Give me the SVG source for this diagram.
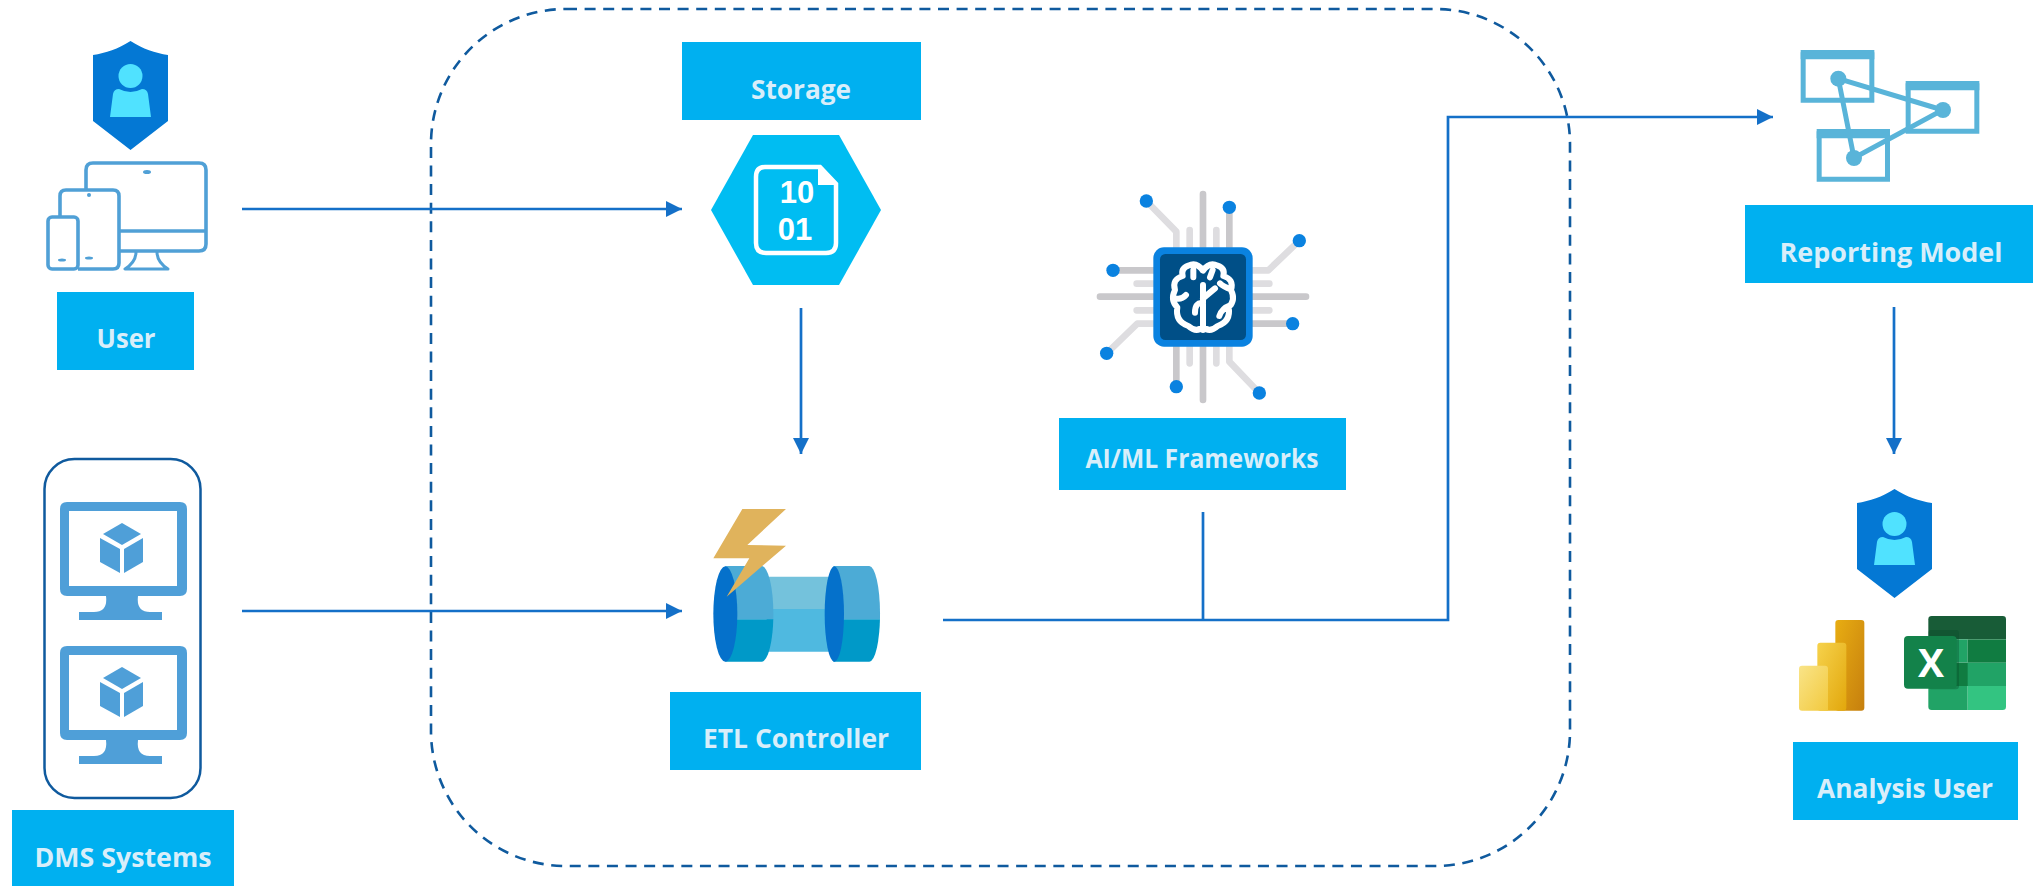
<svg xmlns="http://www.w3.org/2000/svg" width="2033" height="886" viewBox="0 0 2033 886">
<defs>
<style>
.lb{fill:#00b0f0}
.t{font-family:"Open Sans","Liberation Sans",sans-serif;font-weight:700;font-size:27px;fill:#d8eefa;text-anchor:middle}
.d{font-family:"Liberation Sans",Arial,sans-serif;font-weight:700;font-size:31px;fill:#fff;text-anchor:middle}
.c{fill:none;stroke:#1470c8;stroke-width:2.7}
.dev{fill:none;stroke:#50a0d6;stroke-width:3.600;stroke-linejoin:round}
.mon{fill:#4f9fd8}
.app{fill:none;stroke:#59b4d9;stroke-width:15}
.tr{fill:none;stroke:#c9c8cb;stroke-width:20;stroke-linecap:round;stroke-linejoin:round}
.tl{fill:none;stroke:#dedde0;stroke-width:20;stroke-linecap:round;stroke-linejoin:round}
.dot{fill:#0a82e0}
</style>
<marker id="a" markerUnits="userSpaceOnUse" markerWidth="17" markerHeight="16" refX="16" refY="8" orient="auto"><path d="M0 0L16 8L0 16z" fill="#1470c8"/></marker>
<clipPath id="up"><rect x="150" y="200" width="520" height="188"/></clipPath>
<clipPath id="dn"><rect x="150" y="388" width="520" height="140"/></clipPath>
<g id="shield">
<path d="M37.500 0C50 8 62 12 75 14V80L37.500 109L0 80V14C13 12 25 8 37.500 0Z" fill="#0478d4"/>
<circle cx="37.500" cy="35" r="12" fill="#50e2ff"/>
<path d="M17 76L20 53Q21 48 26 48Q37.500 54 49 48Q54 48 55 53L58 76Z" fill="#50e2ff"/>
</g>
<g id="vm">
<path fill-rule="evenodd" class="mon" d="M67 0H180Q187 0 187 7V87Q187 94 180 94H138Q136 110 150 110H162V118H79V110H94Q108 110 106 94H67Q60 94 60 87V7Q60 0 67 0ZM69 9V84H177V9Z"/>
<path class="mon" d="M122 21L141 32L122 43L103 32Z"/>
<path class="mon" d="M100 36L120 47V71L100 60Z"/>
<path class="mon" d="M124 47L143 36V60L124 71Z"/>
</g>
<g id="pipeL"><path d="M196 228H305A35 143 0 0 1 305 515H196Z"/></g>
<g id="pipeR"><path d="M520 228H628A32 143 0 0 1 628 515H520Z"/></g>
</defs>
<rect width="2033" height="886" fill="#fff"/>

<g id="boundary"><rect x="431" y="9" width="1139" height="857" rx="135" fill="none" stroke="#0f5a9e" stroke-width="2.600" stroke-dasharray="11 7.600"/></g>

<g id="connectors">
<path class="c" d="M242 209H682" marker-end="url(#a)"/>
<path class="c" d="M242 611H682" marker-end="url(#a)"/>
<path class="c" d="M801 308V454" marker-end="url(#a)"/>
<path class="c" d="M943 620H1448V117H1773" marker-end="url(#a)"/>
<path class="c" d="M1203 512V620"/>
<path class="c" d="M1894 307V454" marker-end="url(#a)"/>
</g>

<g id="user">
<use href="#shield" x="93" y="41"/>
<g class="dev">
<path d="M86 189V170Q86 163 93 163H199Q206 163 206 170V244Q206 251 199 251H120"/>
<path d="M120 231H206"/>
<path d="M60 216V196Q60 190 66 190H113Q119 190 119 196V263Q119 269 113 269H78"/>
<rect x="48" y="217" width="30" height="52" rx="4"/>
<path d="M136 252Q136 262 125 269H168Q157 262 157 252" stroke-width="3"/>
</g>
<g fill="#50a0d6"><ellipse cx="147" cy="172" rx="4" ry="2"/><ellipse cx="89" cy="195" rx="2" ry="2"/><ellipse cx="89" cy="258" rx="4" ry="1.500"/><ellipse cx="62" cy="260" rx="4" ry="1.500"/></g>
<rect class="lb" x="57" y="292" width="137" height="78"/>
<text class="t" x="126" y="348" textLength="59" lengthAdjust="spacingAndGlyphs">User</text>
</g>

<g id="dms">
<rect x="44.500" y="459" width="156" height="339" rx="30" fill="#fff" stroke="#0f5a9e" stroke-width="2.500"/>
<use href="#vm" y="502"/>
<use href="#vm" y="646"/>
<rect class="lb" x="12" y="810" width="222" height="76"/>
<text class="t" x="123" y="867" textLength="177" lengthAdjust="spacingAndGlyphs">DMS Systems</text>
</g>

<g id="storage">
<rect class="lb" x="682" y="42" width="239" height="78"/>
<text class="t" x="801" y="99" textLength="100" lengthAdjust="spacingAndGlyphs">Storage</text>
<path d="M711 210L753 135H839L881 210L839 285H753Z" fill="#00bdf2"/>
<path d="M765 167H820L836 184V243Q836 253 826 253H766Q756 253 756 243V177Q756 167 765 167Z" fill="none" stroke="#fff" stroke-width="4.500"/>
<path d="M818 165L838 185H818Z" fill="#fff"/>
<text class="d" x="797" y="203">10</text>
<text class="d" x="795" y="240">01</text>
</g>

<g id="etl">
<g transform="translate(660 490) scale(.33333)">
<path d="M320 260H525V357H320Z" fill="#74c2dc"/>
<path d="M320 357H525V485H320Z" fill="#4fb9e0"/>
<use href="#pipeL" fill="#4cabd6" clip-path="url(#up)"/>
<use href="#pipeL" fill="#0099c8" clip-path="url(#dn)"/>
<ellipse cx="196" cy="372" rx="36" ry="143" fill="#0571cb"/>
<use href="#pipeR" fill="#4cabd6" clip-path="url(#up)"/>
<use href="#pipeR" fill="#0099c8" clip-path="url(#dn)"/>
<ellipse cx="523" cy="372" rx="29" ry="143" fill="#0571cb"/>
<path d="M247 57H378L262 165L378 167L200 320L268 205H160Z" fill="#e0b35c"/>
</g>
<rect class="lb" x="670" y="692" width="251" height="78"/>
<text class="t" x="796" y="748" textLength="186" lengthAdjust="spacingAndGlyphs">ETL Controller</text>
</g>

<g id="ai">
<g transform="translate(1060 170) scale(.33333)">
<path class="tr" d="M429 72V690M120 380H738"/>
<path class="tl" d="M389 180V580M469 180V580M230 341H628M230 421H628"/>
<path class="tr" d="M508 112V240M170 301H290M698 461H570M349 520V650"/>
<path class="tl" d="M140 550L232 461H290M259 93L349 185V240M718 212L625 301H570M508 520V575L598 669"/>
<g class="dot"><circle cx="259" cy="93" r="20"/><circle cx="508" cy="112" r="20"/><circle cx="718" cy="212" r="20"/><circle cx="159" cy="301" r="20"/><circle cx="698" cy="461" r="20"/><circle cx="140" cy="550" r="20"/><circle cx="349" cy="650" r="20"/><circle cx="598" cy="669" r="20"/></g>
<rect x="280" y="232" width="298" height="298" rx="32" fill="#0a82e0"/>
<rect x="300" y="252" width="258" height="258" rx="16" fill="#004f87"/>
<path d="M429 480V345M429 385L465 355M429 400Q405 395 405 428M429 302Q410 275 385 287Q362 295 368 318Q335 328 345 360Q330 390 352 412Q345 455 385 468Q410 490 429 470Q448 490 473 468Q513 455 506 412Q528 390 513 360Q523 328 490 318Q496 295 473 287Q448 275 429 302ZM345 385Q365 390 378 375M400 300V322M458 300L450 322M512 405Q485 415 478 438M480 340Q490 350 513 358" fill="none" stroke="#fff" stroke-width="18" stroke-linecap="round" stroke-linejoin="round"/>
</g>
<rect class="lb" x="1059" y="418" width="287" height="72"/>
<text class="t" x="1202" y="468" textLength="233" lengthAdjust="spacingAndGlyphs">AI/ML Frameworks</text>
</g>

<g id="reporting">
<g transform="translate(1760 30) scale(.33333)">
<g class="app">
<path d="M129.500 74H335.500V210.500H129.500Z"/><path d="M444.500 167H650.500V303.500H444.500Z"/><path d="M177.500 311H382.500V447.500H177.500Z"/>
<path d="M235 146L548 240L282 384Z"/>
</g>
<path d="M122 60H343V88H122ZM437 153H658V181H437ZM170 297H390V325H170Z" fill="#59b4d9"/>
<g fill="#59b4d9"><circle cx="235" cy="146" r="24"/><circle cx="549" cy="240" r="24"/><circle cx="282" cy="384" r="24"/></g>
</g>
<rect class="lb" x="1745" y="205" width="288" height="78"/>
<text class="t" x="1891" y="262" textLength="223" lengthAdjust="spacingAndGlyphs">Reporting Model</text>
</g>

<g id="analysis">
<use href="#shield" x="1857" y="489"/>
<g transform="translate(1760 470) scale(.33333)">
<defs><linearGradient id="p1" x1="0" y1="0" x2="1" y2="1"><stop offset="0" stop-color="#e8ad12"/><stop offset="1" stop-color="#c67f0e"/></linearGradient><linearGradient id="p2" x1="0" y1="0" x2="1" y2="1"><stop offset="0" stop-color="#f6d24c"/><stop offset="1" stop-color="#e2a70c"/></linearGradient><linearGradient id="p3" x1="0" y1="0" x2="1" y2="1"><stop offset="0" stop-color="#f9e488"/><stop offset="1" stop-color="#f2c93e"/></linearGradient></defs>
<rect x="226" y="450" width="87" height="272" rx="9" fill="url(#p1)"/>
<rect x="172" y="518" width="87" height="204" rx="9" fill="url(#p2)"/>
<path d="M126 587H195Q204 587 204 596V722H126Q117 722 117 713V596Q117 587 126 587Z" fill="url(#p3)"/>
<path d="M515 438H728Q738 438 738 448V508H505V448Q505 438 515 438Z" fill="#185c37"/>
<rect x="505" y="508" width="118" height="70" fill="#21a366"/>
<rect x="623" y="508" width="115" height="70" fill="#107c41"/>
<path d="M505 578H738V648H505Z" fill="#107c41"/>
<rect x="623" y="578" width="115" height="70" fill="#21a366"/>
<path d="M505 648H623V720H515Q505 720 505 710Z" fill="#21a366"/>
<path d="M623 648H738V710Q738 720 728 720H623Z" fill="#33c481"/>
<rect x="505" y="480" width="92" height="178" rx="9" fill="#0a4a2a" opacity=".35"/>
<rect x="432" y="498" width="158" height="158" rx="12" fill="#13824a"/>
</g>
<text x="1931" y="677" font-family="'Open Sans','Liberation Sans',sans-serif" font-weight="700" font-size="39" fill="#fff" text-anchor="middle">X</text>
<rect class="lb" x="1793" y="742" width="225" height="78"/>
<text class="t" x="1905" y="798" textLength="176" lengthAdjust="spacingAndGlyphs">Analysis User</text>
</g>
</svg>
